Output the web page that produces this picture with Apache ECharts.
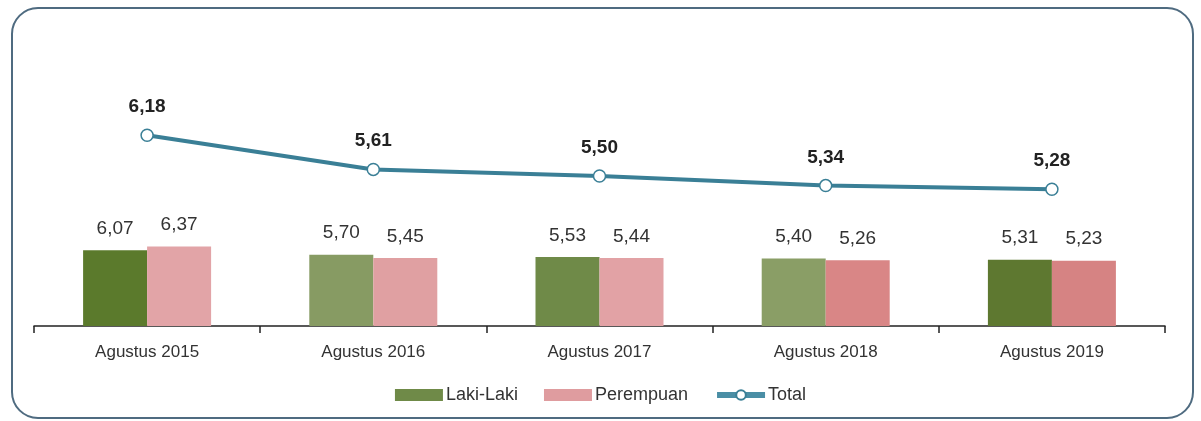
<!DOCTYPE html>
<html>
<head>
<meta charset="utf-8">
<script src="https://cdn.jsdelivr.net/npm/echarts@6/dist/echarts.min.js"></script>
<style>
  html, body { margin: 0; padding: 0; background: #fff; }
  #main { width: 1201px; height: 421px; }
</style>
</head>
<body>
<div id="main"></div>
<script>
// data
var categories = ['Agustus 2015', 'Agustus 2016', 'Agustus 2017', 'Agustus 2018', 'Agustus 2019'];
var lakiLaki = [6.07, 5.70, 5.53, 5.40, 5.31];
var perempuan = [6.37, 5.45, 5.44, 5.26, 5.23];
var total = [6.18, 5.61, 5.50, 5.34, 5.28];

// warna batang per tahun (gambar asli tidak seragam)
var greenShades = ['#5b7a2c', '#879b63', '#6f8a48', '#8a9e66', '#5e7830'];
var pinkShades = ['#e2a4a7', '#e0a0a2', '#e2a2a5', '#d98686', '#d68383'];

var font = 'Liberation Sans, Arial, sans-serif';

function koma(v){
  // 6.07 -> "6,07"
  return v.toFixed(2).replace('.', ',');
}

var chart = echarts.init(document.getElementById('main'));

var option = {
  animation: false,
  textStyle: { fontFamily: font },
  graphic: [{
    type: 'rect',
    shape: { x: 12, y: 8, width: 1181, height: 410, r: 26 },
    style: { fill: 'none', stroke: '#4f6b80', lineWidth: 2 },
    z: -1
  }],
  legend: {
    left: 'center',
    top: 381,
    itemWidth: 48,
    itemHeight: 12,
    itemGap: 26,
    textStyle: { fontSize: 18, color: '#333', fontFamily: font, padding: [0, 0, 0, -2] },
    data: [
      { name: 'Laki-Laki', icon: 'rect', itemStyle: { color: '#6f8a48' } },
      { name: 'Perempuan', icon: 'rect', itemStyle: { color: '#df9c9f' } },
      { name: 'Total', lineStyle: { width: 6, color: '#4a8ea5' } }
    ]
  },
  grid: {
    left: 34,
    right: 36,
    top: 26,
    bottom: 95
  },
  xAxis: {
    type: 'category',
    data: categories,
    axisLine: { lineStyle: { color: '#222', width: 1.5 } },
    axisTick: { show: true, length: 7, lineStyle: { color: '#222', width: 1.5 } },
    axisLabel: { fontSize: 17, color: '#333', margin: 18, fontFamily: font }
  },
  yAxis: [{
    type: 'value',
    min: 0,
    max: 24,
    show: false,
    splitLine: { show: false }
  }, {
    type: 'value',
    min: 3,
    max: 8,
    show: false,
    splitLine: { show: false }
  }],
  series: [{
    name: 'Laki-Laki',
    type: 'bar',
    barWidth: 64,
    barGap: '0%',
    data: lakiLaki.map(function(v, i){
      return { value: v, itemStyle: { color: greenShades[i] } };
    }),
    label: {
      show: true,
      position: 'top',
      distance: 12,
      fontSize: 19,
      color: '#333',
      formatter: function(p){ return koma(p.value); }
    }
  }, {
    name: 'Perempuan',
    type: 'bar',
    barWidth: 64,
    barGap: '0%',
    data: perempuan.map(function(v, i){
      return { value: v, itemStyle: { color: pinkShades[i] } };
    }),
    label: {
      show: true,
      position: 'top',
      distance: 12,
      fontSize: 19,
      color: '#333',
      formatter: function(p){ return koma(p.value); }
    }
  }, {
    name: 'Total',
    type: 'line',
    yAxisIndex: 1,
    data: total,
    symbol: 'circle',
    symbolSize: 12,
    lineStyle: { color: '#3a7f96', width: 4 },
    itemStyle: { color: '#fff', borderColor: '#3a7f96', borderWidth: 1.5 },
    label: {
      show: true,
      position: 'top',
      distance: 12,
      fontSize: 19,
      fontWeight: 'bold',
      color: '#222',
      formatter: function(p){ return koma(p.value); }
    }
  }]
};

chart.setOption(option);
</script>
</body>
</html>
